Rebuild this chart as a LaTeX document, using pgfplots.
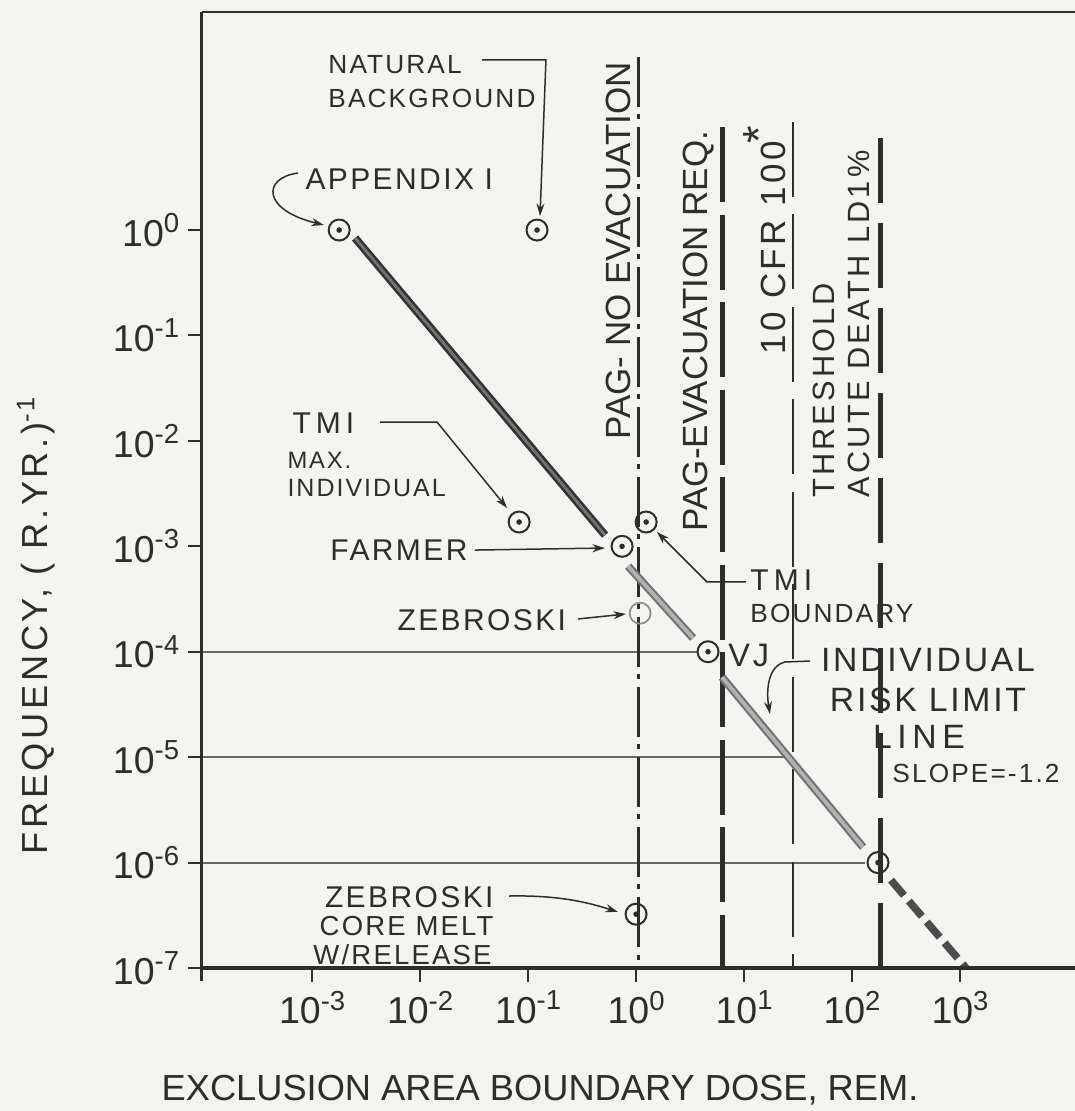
\documentclass[border=0pt]{standalone}
\usepackage{pgfplots}
\pgfplotsset{compat=1.18}
\usepackage{fontspec}
\setmainfont{Liberation Sans}
\newfontfamily\ls{Liberation Sans}[LetterSpace=8]
\newfontfamily\lsw{Liberation Sans}[LetterSpace=10]
\usetikzlibrary{arrows.meta}
\definecolor{bg}{RGB}{243,243,240}
\definecolor{ink}{RGB}{45,45,45}
\newcommand{\fs}[1]{\fontsize{#1}{#1}\selectfont}
\newcommand{\tl}[1]{\fs{15}10\raisebox{0.36em}{\fs{11}#1}}
\tikzset{ann/.style={ink, line width=0.6pt, -{Stealth[length=5pt,width=3.2pt]}}}
\begin{document}
\begin{tikzpicture}
\fill[bg] (-80.8pt,-57.2pt) rectangle (349.2pt,387.2pt);
\begin{axis}[
  at={(0,0)}, anchor=south west,
  scale only axis, width=349.2pt, height=382.4pt,
  xmode=log, ymode=log,
  xmin=9.55e-5, xmax=1.161e4, ymin=1e-7, ymax=117,
  axis lines*=left,
  axis line style={draw=none},
  clip=false,
  xtick={1e-3,1e-2,1e-1,1,10,100,1000},
  xticklabels={\tl{-3},\tl{-2},\tl{-1},\tl{0},\tl{1},\tl{2},\tl{3}},
  ytick={1e-7,1e-6,1e-5,1e-4,1e-3,1e-2,1e-1,1},
  yticklabels={\tl{-7},\tl{-6},\tl{-5},\tl{-4},\tl{-3},\tl{-2},\tl{-1},\tl{0}},
  tick align=outside,
  major tick length=5.6pt,
  minor tick length=0pt,
  major tick style={ink, line width=0.8pt},
  xticklabel style={text=ink},
  yticklabel style={text=ink},
]
% horizontal reference lines
\addplot[black!60, line width=0.8pt] coordinates {(9.55e-5,1e-4) (3.75,1e-4)};
\addplot[black!60, line width=0.8pt] coordinates {(9.55e-5,1e-5) (28,1e-5)};
\addplot[black!60, line width=0.8pt] coordinates {(9.55e-5,1e-6) (132,1e-6)};
% vertical limit lines
\addplot[ink, line width=1.3pt, dash pattern=on 20pt off 3pt on 2pt off 3pt] coordinates {(1.05,43.8) (1.05,1e-7)};
\addplot[ink, line width=2pt, dash pattern=on 30pt off 5pt] coordinates {(6.25,9.49) (6.25,1e-7)};
\addplot[ink, line width=0.9pt, dash pattern=on 30pt off 7pt] coordinates {(28.4,10.6) (28.4,1e-7)};
\addplot[ink, line width=2pt, dash pattern=on 26pt off 8pt] coordinates {(181.6,7.46) (181.6,1e-7)};
% individual risk limit line
\addplot[black!80, line width=3.2pt] coordinates {(2.5e-3,0.8396) (0.5164,1.276e-3)};
\addplot[black!55, line width=1.1pt] coordinates {(2.5e-3,0.8396) (0.5164,1.276e-3)};
\addplot[black!55, line width=3.2pt] coordinates {(0.8433,6.486e-4) (3.373,1.346e-4)};
\addplot[black!30, line width=1.5pt] coordinates {(0.8433,6.486e-4) (3.373,1.346e-4)};
\addplot[black!55, line width=3.2pt] coordinates {(6.252,5.741e-5) (126.5,1.4e-6)};
\addplot[black!30, line width=1.5pt] coordinates {(6.252,5.741e-5) (126.5,1.4e-6)};
\addplot[black!70, line width=3pt, dash pattern=on 8pt off 3pt] coordinates {(229.6,6.81e-7) (1138,1e-7)};
% data points
\addplot[only marks, mark=o, mark size=4.2pt, mark options={ink, line width=0.8pt}]
  coordinates {(1.78e-3,1) (0.121,1) (0.0826,1.7e-3) (0.742,1e-3) (1.24,1.7e-3) (4.64,1e-4) (174,1e-6) (1.0,3.24e-7)};
\addplot[only marks, mark=*, mark size=0.9pt, mark options={ink}]
  coordinates {(1.78e-3,1) (0.121,1) (0.0826,1.7e-3) (0.742,1e-3) (1.24,1.7e-3) (4.64,1e-4) (174,1e-6) (1.0,3.24e-7)};
\addplot[only marks, mark=o, mark size=4.2pt, mark options={black!45, line width=0.7pt}]
  coordinates {(1.09,2.32e-4)};
% axis frame
\draw[ink, line width=1.2pt] (rel axis cs:0,1) -- ([yshift=-5pt]rel axis cs:0,0);
\draw[ink, line width=1.5pt] (rel axis cs:0,0) -- (rel axis cs:1,0);
\draw[ink, line width=1pt] (rel axis cs:0,1) -- (rel axis cs:1,1);
% annotations
\node[anchor=west, font=\ls\fs{10.5}, text=ink, inner sep=0pt] at (rel axis cs:0.1443,0.9446) {NATURAL};
\node[anchor=west, font=\ls\fs{10.5}, text=ink, inner sep=0pt] at (rel axis cs:0.1443,0.9100) {BACKGROUND};
\draw[ann] (rel axis cs:0.3207,0.9498) -- (rel axis cs:0.3940,0.9498) -- (rel axis cs:0.3872,0.7866);
\node[anchor=west, font=\ls\fs{12}, text=ink, inner sep=0pt] at (rel axis cs:0.1180,0.8253) {APPENDIX I};
\draw[ann] (rel axis cs:0.1100,0.8316) .. controls (rel axis cs:0.0687,0.8264) and (rel axis cs:0.0687,0.7929) .. (rel axis cs:0.1397,0.7772);
\node[anchor=west, font=\ls\fs{12}, text=ink, inner sep=0pt] at (rel axis cs:0.1031,0.5701) {T\,M\,I};
\node[anchor=west, font=\ls\fs{9.5}, text=ink, inner sep=0pt] at (rel axis cs:0.0974,0.5314) {MAX.};
\node[anchor=west, font=\ls\fs{10}, text=ink, inner sep=0pt] at (rel axis cs:0.0974,0.5021) {INDIVIDUAL};
\draw[ann] (rel axis cs:0.2039,0.5711) -- (rel axis cs:0.2692,0.5711) -- (rel axis cs:0.3494,0.4812);
\node[anchor=west, font=\ls\fs{12}, text=ink, inner sep=0pt] at (rel axis cs:0.1466,0.4372) {FARMER};
\draw[ann] (rel axis cs:0.3127,0.4372) -- (rel axis cs:0.4616,0.4393);
\node[anchor=west, font=\ls\fs{12}, text=ink, inner sep=0pt] at (rel axis cs:0.2234,0.3640) {ZEBROSKI};
\draw[ann] (rel axis cs:0.4307,0.3651) -- (rel axis cs:0.4856,0.3703);
\node[anchor=west, font=\ls\fs{12}, text=ink, inner sep=0pt] at (rel axis cs:0.6277,0.4059) {T\,M\,I};
\node[anchor=west, font=\ls\fs{10.5}, text=ink, inner sep=0pt] at (rel axis cs:0.6277,0.3713) {BOUNDARY};
\draw[ann] (rel axis cs:0.6231,0.4038) -- (rel axis cs:0.5785,0.4038) -- (rel axis cs:0.5212,0.4561);
\node[anchor=west, font=\ls\fs{13}, text=ink, inner sep=0pt] at (rel axis cs:0.6025,0.3274) {VJ};
\node[font=\ls\fs{13.5}, text=ink, inner sep=0pt] at (rel axis cs:0.8316,0.3222) {INDIVIDUAL};
\node[font=\ls\fs{13.5}, text=ink, inner sep=0pt] at (rel axis cs:0.8316,0.2803) {RISK LIMIT};
\node[font=\ls\fs{13.5}, text=ink, inner sep=0pt] at (rel axis cs:0.8213,0.2416) {L\,I\,N\,E};
\node[font=\ls\fs{10.5}, text=ink, inner sep=0pt] at (rel axis cs:0.8866,0.2040) {SLOPE=-1.2};
\draw[ann] (rel axis cs:0.6965,0.3211) -- (rel axis cs:0.6678,0.3201) .. controls (rel axis cs:0.6484,0.3159) and (rel axis cs:0.6460,0.2908) .. (rel axis cs:0.6506,0.2657);
\node[anchor=east, font=\ls\fs{12}, text=ink, inner sep=0pt] at (rel axis cs:0.3345,0.0743) {ZEBROSKI};
\node[anchor=east, font=\ls\fs{11}, text=ink, inner sep=0pt] at (rel axis cs:0.3345,0.0439) {CORE MELT};
\node[anchor=east, font=\ls\fs{11}, text=ink, inner sep=0pt] at (rel axis cs:0.3322,0.0136) {W/RELEASE};
\draw[ann] (rel axis cs:0.3517,0.0753) .. controls (rel axis cs:0.4101,0.0764) and (rel axis cs:0.4444,0.0680) .. (rel axis cs:0.4765,0.0586);
% vertical labels
\node[rotate=90, font=\fs{14}, text=ink, inner sep=0pt] at (rel axis cs:0.4765,0.7500) {PAG- NO EVACUATION};
\node[rotate=90, font=\fs{14}, text=ink, inner sep=0pt] at (rel axis cs:0.5693,0.6663) {PAG-EVACUATION REQ.};
\node[rotate=90, anchor=west, font=\lsw\fs{14}, text=ink, inner sep=0pt] at (rel axis cs:0.6541,0.6412) {10 CFR 100\kern-1pt\smash{\raisebox{0.3em}{\fs{18}*}}};
\node[rotate=90, anchor=west, font=\lsw\fs{12.3}, text=ink, inner sep=0pt] at (rel axis cs:0.7125,0.4916) {THRESHOLD};
\node[rotate=90, anchor=west, font=\lsw\fs{12.3}, text=ink, inner sep=0pt] at (rel axis cs:0.7526,0.4916) {ACUTE DEATH LD1\%};
% axis labels
\node[font=\fs{14.5}, text=ink] at (rel axis cs:0.3872,-0.1276) {EXCLUSION AREA BOUNDARY DOSE, REM.};
\node[rotate=90, anchor=west, font=\lsw\fs{14.5}, text=ink, inner sep=0pt] at (rel axis cs:-0.1879,0.1182) {FREQUENCY, ( R.YR.)\smash{\textsuperscript{-1}}};
\end{axis}
\pgfresetboundingbox
\path (-80.8pt,-57.2pt) rectangle (349.2pt,387.2pt);
\end{tikzpicture}
\end{document}
